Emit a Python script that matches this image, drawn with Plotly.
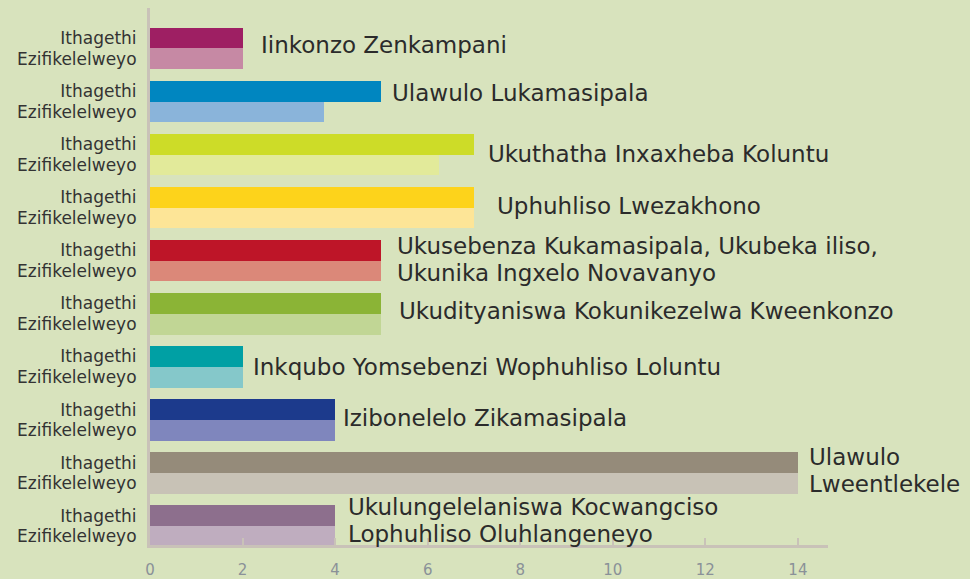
import plotly.graph_objects as go

categories = [
    "Iinkonzo Zenkampani",
    "Ulawulo Lukamasipala",
    "Ukuthatha Inxaxheba Koluntu",
    "Uphuhliso Lwezakhono",
    "Ukusebenza Kukamasipala, Ukubeka iliso,<br>Ukunika Ingxelo Novavanyo",
    "Ukudityaniswa Kokunikezelwa Kweenkonzo",
    "Inkqubo Yomsebenzi Wophuhliso Loluntu",
    "Izibonelelo Zikamasipala",
    "Ulawulo<br>Lweentlekele",
    "Ukulungelelaniswa Kocwangciso<br>Lophuhliso Oluhlangeneyo",
]
target = [2, 5, 7, 7, 5, 5, 2, 4, 14, 4]
achieved = [2, 3.75, 6.25, 7, 5, 5, 2, 4, 14, 4]
target_label = "Ithagethi"
achieved_label = "Ezifikelelweyo"
x_ticks = [0, 2, 4, 6, 8, 10, 12, 14]

dark_colors = ["#9e1f63", "#0086c0", "#cddc28", "#fdd31b", "#be1528",
               "#8bb436", "#00a0a4", "#1c3a8c", "#958b7a", "#8d6f8d"]
light_colors = ["#c689a4", "#8ab4da", "#e2ea9a", "#fde597", "#db8879",
                "#c1d695", "#85c8ca", "#7f86bd", "#c8c2b6", "#bfadbf"]

# label offsets in pixels (layout only)
label_dx = [17, 10, 13, 22, 15, 17, 9, 7, 10, 12]
label_dy = [3, 9, 1, 2, 1, 3, 0, 2, 2, 6]
line_gap = 27
FONT = "DejaVu Sans"

half = 0.195
n = len(categories)
y_t = [i - half for i in range(n)]
y_a = [i + half for i in range(n)]

fig = go.Figure()
fig.add_trace(go.Bar(x=target, y=y_t, orientation="h", width=0.39,
                     marker=dict(color=dark_colors, line=dict(width=0)),
                     showlegend=False, hoverinfo="x"))
fig.add_trace(go.Bar(x=achieved, y=y_a, orientation="h", width=0.39,
                     marker=dict(color=light_colors, line=dict(width=0)),
                     showlegend=False, hoverinfo="x"))

for i in range(n):
    lines = categories[i].split("<br>")
    m = len(lines)
    for k, line in enumerate(lines):
        off = (k - (m - 1) / 2) * line_gap
        fig.add_annotation(x=max(target[i], achieved[i]), y=i, text=line,
                           xref="x", yref="y", xanchor="left", yanchor="middle",
                           align="left", showarrow=False, borderpad=0,
                           xshift=label_dx[i], yshift=label_dy[i] - off,
                           font=dict(family=FONT, size=23, color="#2b2b2b"))

tickvals = []
ticktext = []
for i in range(n):
    tickvals += [y_t[i], y_a[i]]
    ticktext += [target_label, achieved_label]

fig.update_layout(
    width=970, height=579,
    margin=dict(l=150, r=142, t=8, b=34),
    paper_bgcolor="#d8e3bd", plot_bgcolor="#d8e3bd",
    bargap=0, barmode="overlay",
    xaxis=dict(range=[0, 14.65], tickvals=x_ticks, showgrid=False, zeroline=False,
               showline=True, linecolor="#c9c2b8", linewidth=3, automargin=False,
               ticks="inside", ticklen=7, tickwidth=2, tickcolor="#c9c2b8",
               tickfont=dict(family=FONT, size=15, color="#8a9198"),
               ticklabelstandoff=9),
    yaxis=dict(range=[9.357, -0.763], tickvals=tickvals, ticktext=ticktext,
               showgrid=False, zeroline=False, showline=True, automargin=False,
               linecolor="#c9c2b8", linewidth=3, ticks="",
               tickfont=dict(family=FONT, size=17, color="#333333"),
               ticklabelstandoff=7),
)

fig.write_html("out.html", config={"displayModeBar": False},
               post_script="document.body.style.margin='0';")
